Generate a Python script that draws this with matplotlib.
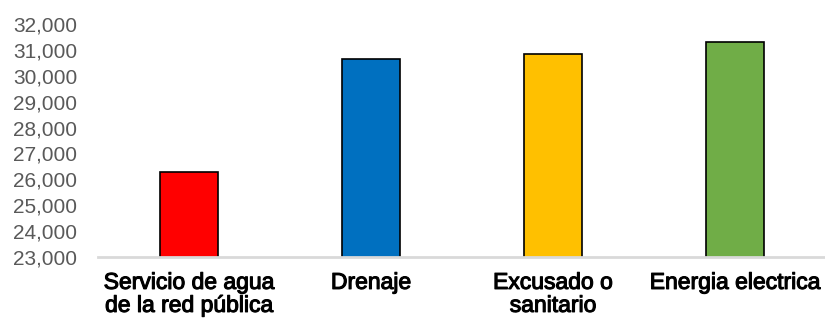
import matplotlib
matplotlib.use("Agg")
import matplotlib.pyplot as plt
import matplotlib.patheffects as pe
from matplotlib.ticker import FuncFormatter

categories = ["Servicio de agua\nde la red pública", "Drenaje", "Excusado o\nsanitario", "Energia electrica"]
values = [26270, 30630, 30860, 31310]
colors = ["#FF0000", "#0070C0", "#FFC000", "#70AD47"]
yticks = list(range(23000, 32001, 1000))

plt.rcParams['font.family'] = ['Liberation Sans', 'DejaVu Sans']

fig = plt.figure(figsize=(8.25, 3.22), dpi=100)
ax = fig.add_axes([98/825, 1 - 257/322, (826-98)/825, (257-24)/322])

x = range(len(categories))
ax.bar(x, values, width=0.32, color=colors, edgecolor="black", linewidth=1.2, zorder=3)

ax.set_ylim(23000, 32000)
ax.set_xlim(-0.5, len(categories) - 0.5)
ax.set_yticks(yticks)
ax.yaxis.set_major_formatter(FuncFormatter(lambda v, p: f"{int(v):,}"))
ax.set_xticks(list(x))
ax.set_xticklabels(categories, fontsize=16.5, fontweight="normal", color="black", linespacing=1.0)
for t in ax.get_xticklabels():
    t.set_path_effects([pe.withStroke(linewidth=0.8, foreground="black")])

ax.tick_params(axis="y", length=0, pad=15, labelsize=15, labelcolor="#595959")
ax.tick_params(axis="x", length=0, pad=10)

for s in ["top", "right", "left"]:
    ax.spines[s].set_visible(False)
ax.spines["bottom"].set_color("#D9D9D9")
ax.spines["bottom"].set_linewidth(2)
ax.spines["bottom"].set_zorder(4)

fig.savefig("out.png", dpi=100)
